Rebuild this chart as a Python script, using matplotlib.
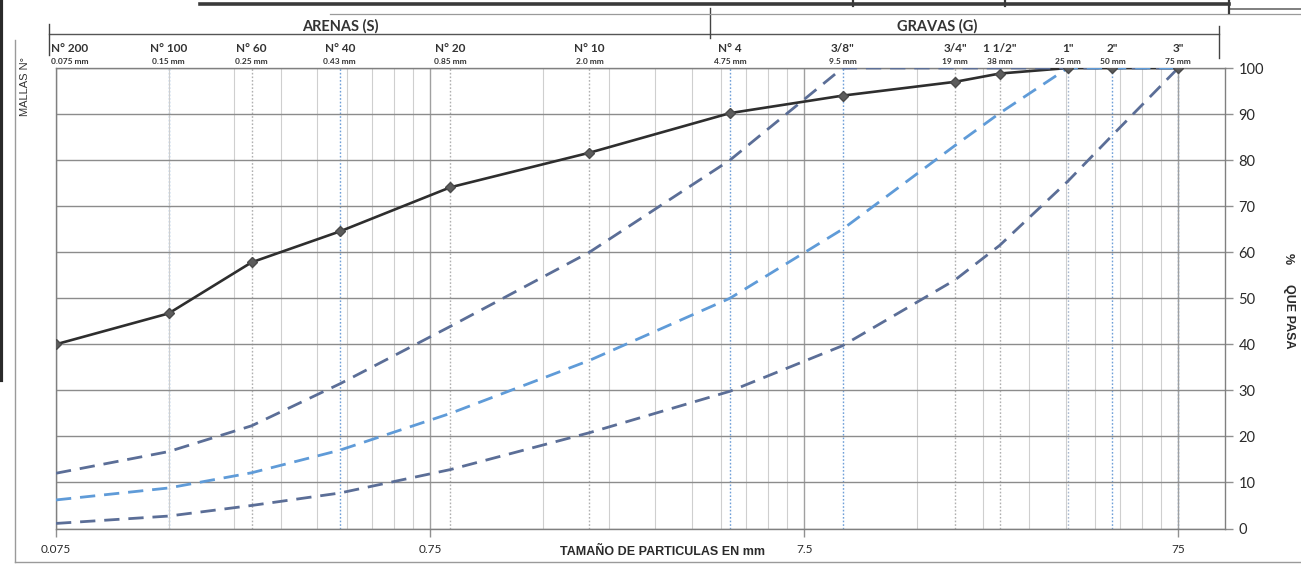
import matplotlib
matplotlib.use("Agg")
import matplotlib.pyplot as plt
from matplotlib.lines import Line2D
from matplotlib import transforms
from matplotlib.ticker import FixedLocator, NullFormatter

# ---------------- data ----------------
sieve_sizes_mm = [0.075, 0.15, 0.25, 0.43, 0.85, 2.0, 4.75, 9.5, 19, 25, 38, 50, 75]
sieve_names = ["N° 200", "N° 100", "N° 60", "N° 40", "N° 20", "N° 10", "N° 4",
               '3/8"', '3/4"', '1 1/2"', '1"', '2"', '3"']
sieve_mm_labels = ["0.075 mm", "0.15 mm", "0.25 mm", "0.43 mm", "0.85 mm", "2.0 mm",
                   "4.75 mm", "9.5 mm", "19 mm", "38 mm", "25 mm", "50 mm", "75 mm"]

pct_sample = [40.0, 46.7, 57.8, 64.5, 74.1, 81.6, 90.2, 94.0, 97.0, 98.8, 100, 100, 100]
pct_band_upper = [12.0, 16.7, 22.3, 31.4, 43.9, 60.0, 80.0, 100, 100, 100, 100, 100, 100]
pct_band_middle = [6.2, 8.8, 12.1, 17.0, 25.0, 36.5, 50.0, 65.0, 83.2, 90.2, 100, 100, 100]
pct_band_lower = [1.1, 2.7, 5.0, 7.7, 12.8, 20.8, 29.8, 39.7, 54.0, 61.5, 75.4, 85.4, 100]

x_tick_values = [0.075, 0.75, 7.5, 75]
x_tick_labels = ["0.075", "0.75", "7.5", "75"]
y_tick_values = [0, 10, 20, 30, 40, 50, 60, 70, 80, 90, 100]
y_tick_labels = ["0", "10", "20", "30", "40", "50", "60", "70", "80", "90", "100"]

x_limits = (0.075, 100)
y_limits = (0, 100)

header_sands = "ARENAS (S)"
header_gravels = "GRAVAS (G)"
x_title = "TAMAÑO DE PARTICULAS EN mm"
y_title_pct = "%"
y_title_text = "QUE PASA"
left_title = "MALLAS N°"

# ---------------- styles ----------------
sieve_line_colors = [None, "#6f9fd8", "#b0b0b0", "#6f9fd8", "#b0b0b0", "#b0b0b0", "#6f9fd8",
                     "#6f9fd8", "#b0b0b0", "#b0b0b0", "#a8b8d0", "#6f9fd8", "#4f86c9"]
DARK_DASH = "#5b6e97"
LIGHT_DASH = "#5f9bd8"
GRID = "#8c8c8c"
MINOR = "#cfcfcf"
TXT = "#2a2a2a"

W, H = 1301, 571
fig = plt.figure(figsize=(W / 100, H / 100), dpi=100)
fig.patch.set_facecolor("white")


def fx(px):
    return px / W


def fy(py):
    return 1 - py / H


ax_left, ax_right, ax_top, ax_bottom = 56, 1225, 68, 528.5
ax = fig.add_axes([fx(ax_left), fy(ax_bottom), fx(ax_right - ax_left), (ax_bottom - ax_top) / H])
ax.set_xscale("log")
ax.set_xlim(*x_limits)
ax.set_ylim(*y_limits)

# grid: minor multiples of each 0.075 decade
minor_pos = []
for k in range(4):
    for m in range(2, 10):
        v = m * x_tick_values[0] * 10 ** k
        if v < x_limits[1]:
            minor_pos.append(v)
ax.xaxis.set_major_locator(FixedLocator(x_tick_values))
ax.set_xticklabels(x_tick_labels)
ax.xaxis.set_minor_locator(FixedLocator(minor_pos))
ax.xaxis.set_minor_formatter(NullFormatter())
ax.grid(which="minor", axis="x", color=MINOR, lw=0.8, zorder=0)
ax.grid(which="major", axis="x", color="#a0a0a0", lw=1.0, zorder=0)
ax.tick_params(axis="x", which="minor", length=0)
ax.tick_params(axis="x", which="major", direction="out", length=6, width=1,
               color="#909090", pad=5, labelsize=8.5, labelcolor=TXT)

ax.yaxis.tick_right()
ax.yaxis.set_major_locator(FixedLocator(y_tick_values))
ax.set_yticklabels(y_tick_labels)
ax.grid(which="major", axis="y", color=GRID, lw=1.0, zorder=0)
ax.tick_params(axis="y", which="major", direction="out", length=6, width=1,
               color="#909090", pad=3.6, labelsize=10.5, labelcolor=TXT)
for lab in ax.get_yticklabels():
    lab.set_fontfamily("Lato")
for lab in ax.get_xticklabels():
    lab.set_fontfamily("Lato")

for sp in ax.spines.values():
    sp.set_color("#808080")
    sp.set_linewidth(1.0)

# sieve dotted lines
for s, c in zip(sieve_sizes_mm, sieve_line_colors):
    if c is None:
        continue
    ax.axvline(s, color=c, lw=1.0, ls=(0, (1.2, 1.4)), zorder=1)

# curves
ax.plot(sieve_sizes_mm, pct_sample, color="#2e2e2e", lw=1.9, zorder=3, solid_capstyle="round")
ax.plot(sieve_sizes_mm, pct_band_upper, color=DARK_DASH, lw=2.0, dashes=(5.5, 3.2), zorder=4)
ax.plot(sieve_sizes_mm, pct_band_middle, color=LIGHT_DASH, lw=2.0, dashes=(5.5, 3.2), zorder=4)
ax.plot(sieve_sizes_mm, pct_band_lower, color=DARK_DASH, lw=2.0, dashes=(5.5, 3.2), zorder=4)
ax.plot(sieve_sizes_mm, pct_sample, ls="none", marker="D", ms=5, color="#5c5c5c",
        markeredgecolor="#4a4a4a", zorder=5)

# sieve labels above plot
blend = transforms.blended_transform_factory(ax.transData, fig.transFigure)
shift_left = transforms.ScaledTranslation(-5 / 100, 0, fig.dpi_scale_trans)
for i, (s, nm, mm) in enumerate(zip(sieve_sizes_mm, sieve_names, sieve_mm_labels)):
    ha = "left" if i == 0 else "center"
    tr = blend + shift_left if i == 0 else blend
    ax.text(s, fy(48), nm, transform=tr, ha=ha, va="center", fontsize=8.5,
            fontweight="bold", family="Lato", color="#333333", clip_on=False)
    ax.text(s, fy(61.5), mm, transform=tr, ha=ha, va="center", fontsize=6,
            fontweight="bold", family="Lato", color="#333333", clip_on=False)

# header
fig.add_artist(Line2D([fx(49), fx(1219)], [fy(34), fy(34)], color="#555555", lw=1.0))
fig.add_artist(Line2D([fx(49), fx(49)], [fy(24), fy(55)], color="#444444", lw=1.0))
fig.add_artist(Line2D([fx(710), fx(710)], [fy(8), fy(38)], color="#444444", lw=1.0))
fig.add_artist(Line2D([fx(1219), fx(1219)], [fy(26), fy(58)], color="#444444", lw=1.0))
fig.add_artist(Line2D([fx(330), fx(1301)], [fy(14), fy(14)], color="#9a9a9a", lw=0.9))
fig.add_artist(Line2D([fx(200), fx(1229)], [fy(3.5), fy(3.5)], color="#3a3a3a", lw=2.6))
fig.add_artist(Line2D([fx(1229), fx(1301)], [fy(9), fy(9)], color="#6a6a6a", lw=1.2))
for xv, y2 in [(853, 6), (1005, 6), (1229, 13)]:
    fig.add_artist(Line2D([fx(xv), fx(xv)], [fy(0), fy(y2)], color="#3a3a3a", lw=1.6))

fig.text(fx(340), fy(26), header_sands, ha="center", va="center", fontsize=10.5,
         fontweight="bold", family="Lato", color="#333333")
fig.text(fx(937), fy(26), header_gravels, ha="center", va="center", fontsize=10.5,
         fontweight="bold", family="Lato", color="#333333")

# outer frame and scan edge
fig.add_artist(Line2D([fx(15), fx(15)], [fy(40), fy(562)], color="#9a9a9a", lw=1.0))
fig.add_artist(Line2D([fx(15), fx(1301)], [fy(562), fy(562)], color="#9a9a9a", lw=1.0))
fig.add_artist(Line2D([fx(1.5), fx(1.5)], [fy(0), fy(380)], color="#2a2a2a", lw=3.0))

# titles
fig.text(fx(662), fy(552), x_title, ha="center", va="center", fontsize=9,
         fontweight="bold", family="Liberation Sans", color=TXT)
fig.text(fx(1288), fy(259), y_title_pct, ha="center", va="center", fontsize=9,
         fontweight="bold", family="Liberation Sans", color=TXT, rotation=-90)
fig.text(fx(1289), fy(316), y_title_text, ha="center", va="center", fontsize=9,
         fontweight="bold", family="Liberation Sans", color=TXT, rotation=-90)
fig.text(fx(25), fy(87), left_title, ha="center", va="center", fontsize=8,
         family="Liberation Sans", color="#333333", rotation=90)

fig.savefig("out.png", dpi=100, facecolor="white")
